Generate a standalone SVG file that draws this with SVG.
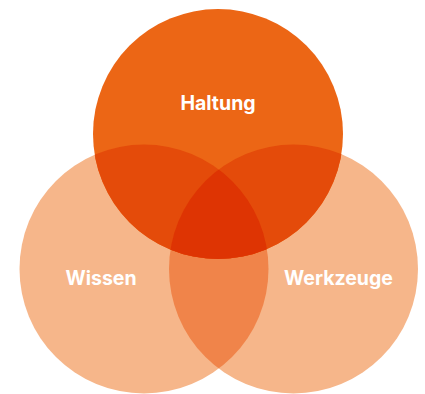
<svg xmlns="http://www.w3.org/2000/svg" width="425" height="394" viewBox="0 0 425 394">
<style>
.lbl{font-family:Inter,"Open Sans","Liberation Sans",sans-serif;font-weight:700;font-size:19.5px;fill:#ffffff;text-anchor:middle}
</style>
<defs>
<clipPath id="cTop"><circle cx="218" cy="134" r="125"/></clipPath>
<clipPath id="cLeft"><circle cx="144" cy="269" r="124.5"/></clipPath>
<clipPath id="cRight"><circle cx="293.5" cy="269" r="124.5"/></clipPath>
</defs>
<rect width="425" height="394" fill="#ffffff"/>
<g id="wissen">
<circle cx="144" cy="269" r="124.5" fill="#F6B68A"/>
</g>
<g id="werkzeuge">
<circle cx="293.5" cy="269" r="124.5" fill="#F6B68A"/>
<g clip-path="url(#cLeft)"><circle cx="293.5" cy="269" r="124.5" fill="#F0844A"/></g>
</g>
<g id="haltung">
<circle cx="218" cy="134" r="125" fill="#EC6615"/>
<g clip-path="url(#cTop)">
<circle cx="144" cy="269" r="124.5" fill="#E44B0A"/>
<circle cx="293.5" cy="269" r="124.5" fill="#E44B0A"/>
<g clip-path="url(#cLeft)"><circle cx="293.5" cy="269" r="124.5" fill="#DE3403"/></g>
</g>
</g>
<g id="labels">
<text class="lbl" x="218" y="110">Haltung</text>
<text class="lbl" x="101" y="285">Wissen</text>
<text class="lbl" x="338.5" y="285">Werkzeuge</text>
</g>
</svg>
